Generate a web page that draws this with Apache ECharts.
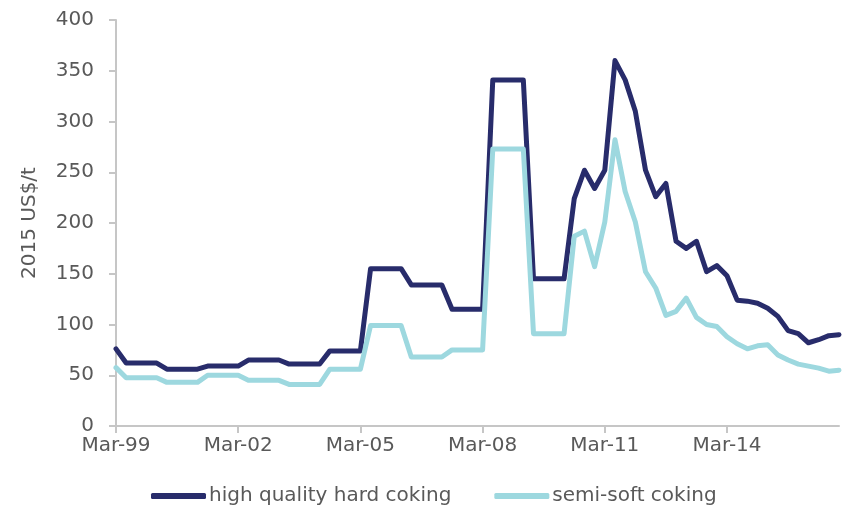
<!DOCTYPE html>
<html>
<head>
<meta charset="utf-8">
<script src="https://cdn.jsdelivr.net/npm/echarts@6/dist/echarts.min.js"></script>
<style>
  html, body { margin: 0; padding: 0; background: #fff; }
  #chart { width: 842px; height: 505px; }
</style>
</head>
<body>
<div id="chart"></div>
<script>
// Quarterly coking coal prices, real 2015 US$ per tonne
const quarters = [
  'Mar-99','Jun-99','Sep-99','Dec-99','Mar-00','Jun-00','Sep-00','Dec-00',
  'Mar-01','Jun-01','Sep-01','Dec-01','Mar-02','Jun-02','Sep-02','Dec-02',
  'Mar-03','Jun-03','Sep-03','Dec-03','Mar-04','Jun-04','Sep-04','Dec-04',
  'Mar-05','Jun-05','Sep-05','Dec-05','Mar-06','Jun-06','Sep-06','Dec-06',
  'Mar-07','Jun-07','Sep-07','Dec-07','Mar-08','Jun-08','Sep-08','Dec-08',
  'Mar-09','Jun-09','Sep-09','Dec-09','Mar-10','Jun-10','Sep-10','Dec-10',
  'Mar-11','Jun-11','Sep-11','Dec-11','Mar-12','Jun-12','Sep-12','Dec-12',
  'Mar-13','Jun-13','Sep-13','Dec-13','Mar-14','Jun-14','Sep-14','Dec-14',
  'Mar-15','Jun-15','Sep-15','Dec-15','Mar-16','Jun-16','Sep-16','Dec-16'
];

const hardCoking = [
  76, 62, 62, 62, 62, 56, 56, 56, 56, 59, 59, 59, 59, 65, 65, 65,
  65, 61, 61, 61, 61, 74, 74, 74, 74, 155, 155, 155, 155, 139, 139, 139,
  139, 115, 115, 115, 115, 341, 341, 341, 341, 145, 145, 145, 145, 224, 252, 234,
  252, 360, 341, 310, 252, 226, 239, 182, 175, 182, 152, 158, 148, 124,
  123, 121, 116, 108, 94, 91, 82, 85, 89, 90
];

const semiSoft = [
  57.5, 47.5, 47.5, 47.5, 47.5, 43, 43, 43, 43, 50, 50, 50, 50, 45, 45, 45,
  45, 41, 41, 41, 41, 56, 56, 56, 56, 99, 99, 99, 99, 68, 68, 68,
  68, 75, 75, 75, 75, 273, 273, 273, 273, 91, 91, 91, 91, 187, 192, 157,
  201, 282, 231, 201, 152, 136, 109, 113, 126, 107, 100, 98, 88, 81,
  76, 79, 80, 70, 65, 61, 59, 57, 54, 55
];

const seriesNames = ['high quality hard coking', 'semi-soft coking'];
const yAxisTitle = '2015 US$/t';

const FONT = 'DejaVu Sans';
const TEXT_COLOR = '#595959';
const AXIS_COLOR = '#c6c6c6';

const chart = echarts.init(document.getElementById('chart'), null, { renderer: 'canvas' });

chart.setOption({
  animation: false,
  backgroundColor: '#ffffff',
  textStyle: { fontFamily: FONT },
  grid: { left: 116, right: 3, top: 20, bottom: 79, containLabel: false },
  legend: {
    data: seriesNames,
    left: 146,
    top: 481,
    icon: 'roundRect',
    itemWidth: 55,
    itemHeight: 6,
    itemGap: 43,
    textStyle: { fontFamily: FONT, fontSize: 20, color: TEXT_COLOR, padding: [0, 0, 0, -2] }
  },
  xAxis: {
    type: 'category',
    data: quarters,
    boundaryGap: false,
    axisLine: { lineStyle: { color: AXIS_COLOR, width: 2 } },
    axisTick: { show: true, interval: 11, length: 7, lineStyle: { color: AXIS_COLOR, width: 2 } },
    axisLabel: { interval: 11, margin: 10, fontFamily: FONT, fontSize: 20, color: TEXT_COLOR },
    splitLine: { show: false }
  },
  yAxis: {
    type: 'value',
    min: 0,
    max: 400,
    interval: 50,
    name: yAxisTitle,
    nameLocation: 'middle',
    nameGap: 76,
    nameTextStyle: { fontFamily: FONT, fontSize: 20, color: TEXT_COLOR },
    axisLine: { show: true, lineStyle: { color: AXIS_COLOR, width: 2 } },
    axisTick: { show: true, length: 7, lineStyle: { color: AXIS_COLOR, width: 2 } },
    axisLabel: { margin: 22, fontFamily: FONT, fontSize: 20, color: TEXT_COLOR },
    splitLine: { show: false }
  },
  series: [
    {
      name: seriesNames[0],
      type: 'line',
      data: hardCoking,
      showSymbol: false,
      symbol: 'none',
      color: '#282c6b',
      lineStyle: { width: 5, color: '#282c6b', cap: 'round', join: 'round' },
      z: 2
    },
    {
      name: seriesNames[1],
      type: 'line',
      data: semiSoft,
      showSymbol: false,
      symbol: 'none',
      color: '#9dd8df',
      lineStyle: { width: 5, color: '#9dd8df', cap: 'round', join: 'round' },
      z: 3
    }
  ]
});
</script>
</body>
</html>
